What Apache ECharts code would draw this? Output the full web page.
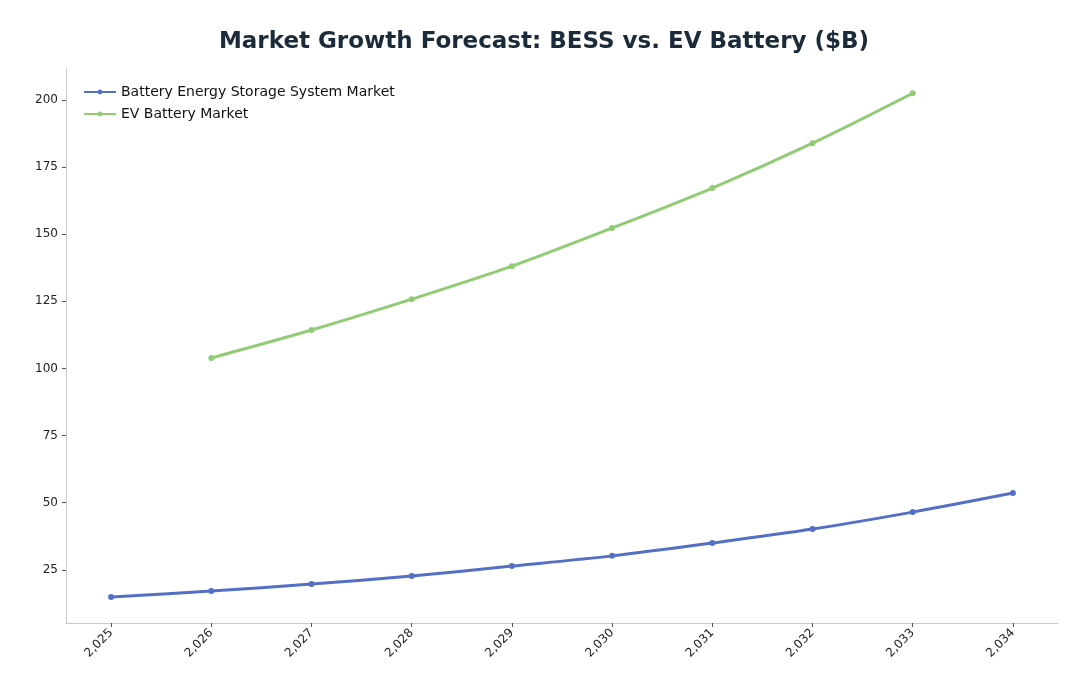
<!DOCTYPE html>
<html lang="en">
<head>
    <meta charset="UTF-8">
    <title>Market Growth Forecast</title>
    <script src="https://cdn.jsdelivr.net/npm/echarts@6/dist/echarts.min.js"></script>
    <style>
        html, body { margin: 0; padding: 0; background: #fff; }
        #main { width: 1088px; height: 697px; }
    </style>
</head>
<body>
<div id="main"></div>
<script type="text/javascript">
    const years = [2025, 2026, 2027, 2028, 2029, 2030, 2031, 2032, 2033, 2034];
    const bessValues = [14.9, 17.1, 19.7, 22.7, 26.4, 30.2, 35.0, 40.2, 46.5, 53.6];
    const evYears = [2026, 2027, 2028, 2029, 2030, 2031, 2032, 2033];
    const evValues = [103.9, 114.3, 125.8, 138.1, 152.3, 167.2, 183.9, 202.5];
    const yTicks = [25, 50, 75, 100, 125, 150, 175, 200];

    let chart = echarts.init(document.getElementById('main'));
    const font = 'DejaVu Sans';
    let option = {
        animation: false,
        title: {
            text: 'Market Growth Forecast: BESS vs. EV Battery ($B)',
            left: 'center',
            top: 26,
            textStyle: {fontFamily: font, fontSize: 23, fontWeight: 'bold', color: '#1c2b39'}
        },
        legend: {
            orient: 'vertical',
            left: 78,
            top: 80,
            itemWidth: 32,
            itemHeight: 6,
            itemGap: 8,
            textStyle: {fontFamily: font, fontSize: 14, color: '#111'},
            data: ['Battery Energy Storage System Market', 'EV Battery Market']
        },
        grid: {left: 66, right: 30, top: 68, bottom: 74},
        xAxis: {
            type: 'value',
            min: 2024.55,
            max: 2034.45,
            splitLine: {show: false},
            axisLine: {lineStyle: {color: '#cccccc'}},
            axisTick: {show: true, customValues: years, length: 4, lineStyle: {color: '#555'}},
            axisLabel: {customValues: years, rotate: 45, fontFamily: font, fontSize: 12, color: '#222', margin: 8}
        },
        yAxis: {
            type: 'value',
            min: 5.2,
            max: 211.9,
            splitLine: {show: false},
            axisLine: {show: true, lineStyle: {color: '#cccccc'}},
            axisTick: {show: true, customValues: yTicks, length: 4, lineStyle: {color: '#555'}},
            axisLabel: {customValues: yTicks, fontFamily: font, fontSize: 12, color: '#222'}
        },
        series: [
            {
                name: 'Battery Energy Storage System Market',
                type: 'line',
                smooth: 0.3,
                symbol: 'circle',
                symbolSize: 6,
                lineStyle: {width: 3, color: '#5470c6'},
                itemStyle: {color: '#5470c6'},
                data: years.map((y, i) => [y, bessValues[i]])
            },
            {
                name: 'EV Battery Market',
                type: 'line',
                smooth: 0.3,
                symbol: 'circle',
                symbolSize: 6,
                lineStyle: {width: 3, color: '#91cc75'},
                itemStyle: {color: '#91cc75'},
                data: evYears.map((y, i) => [y, evValues[i]])
            }
        ]
    };
    chart.setOption(option);
</script>
</body>
</html>
